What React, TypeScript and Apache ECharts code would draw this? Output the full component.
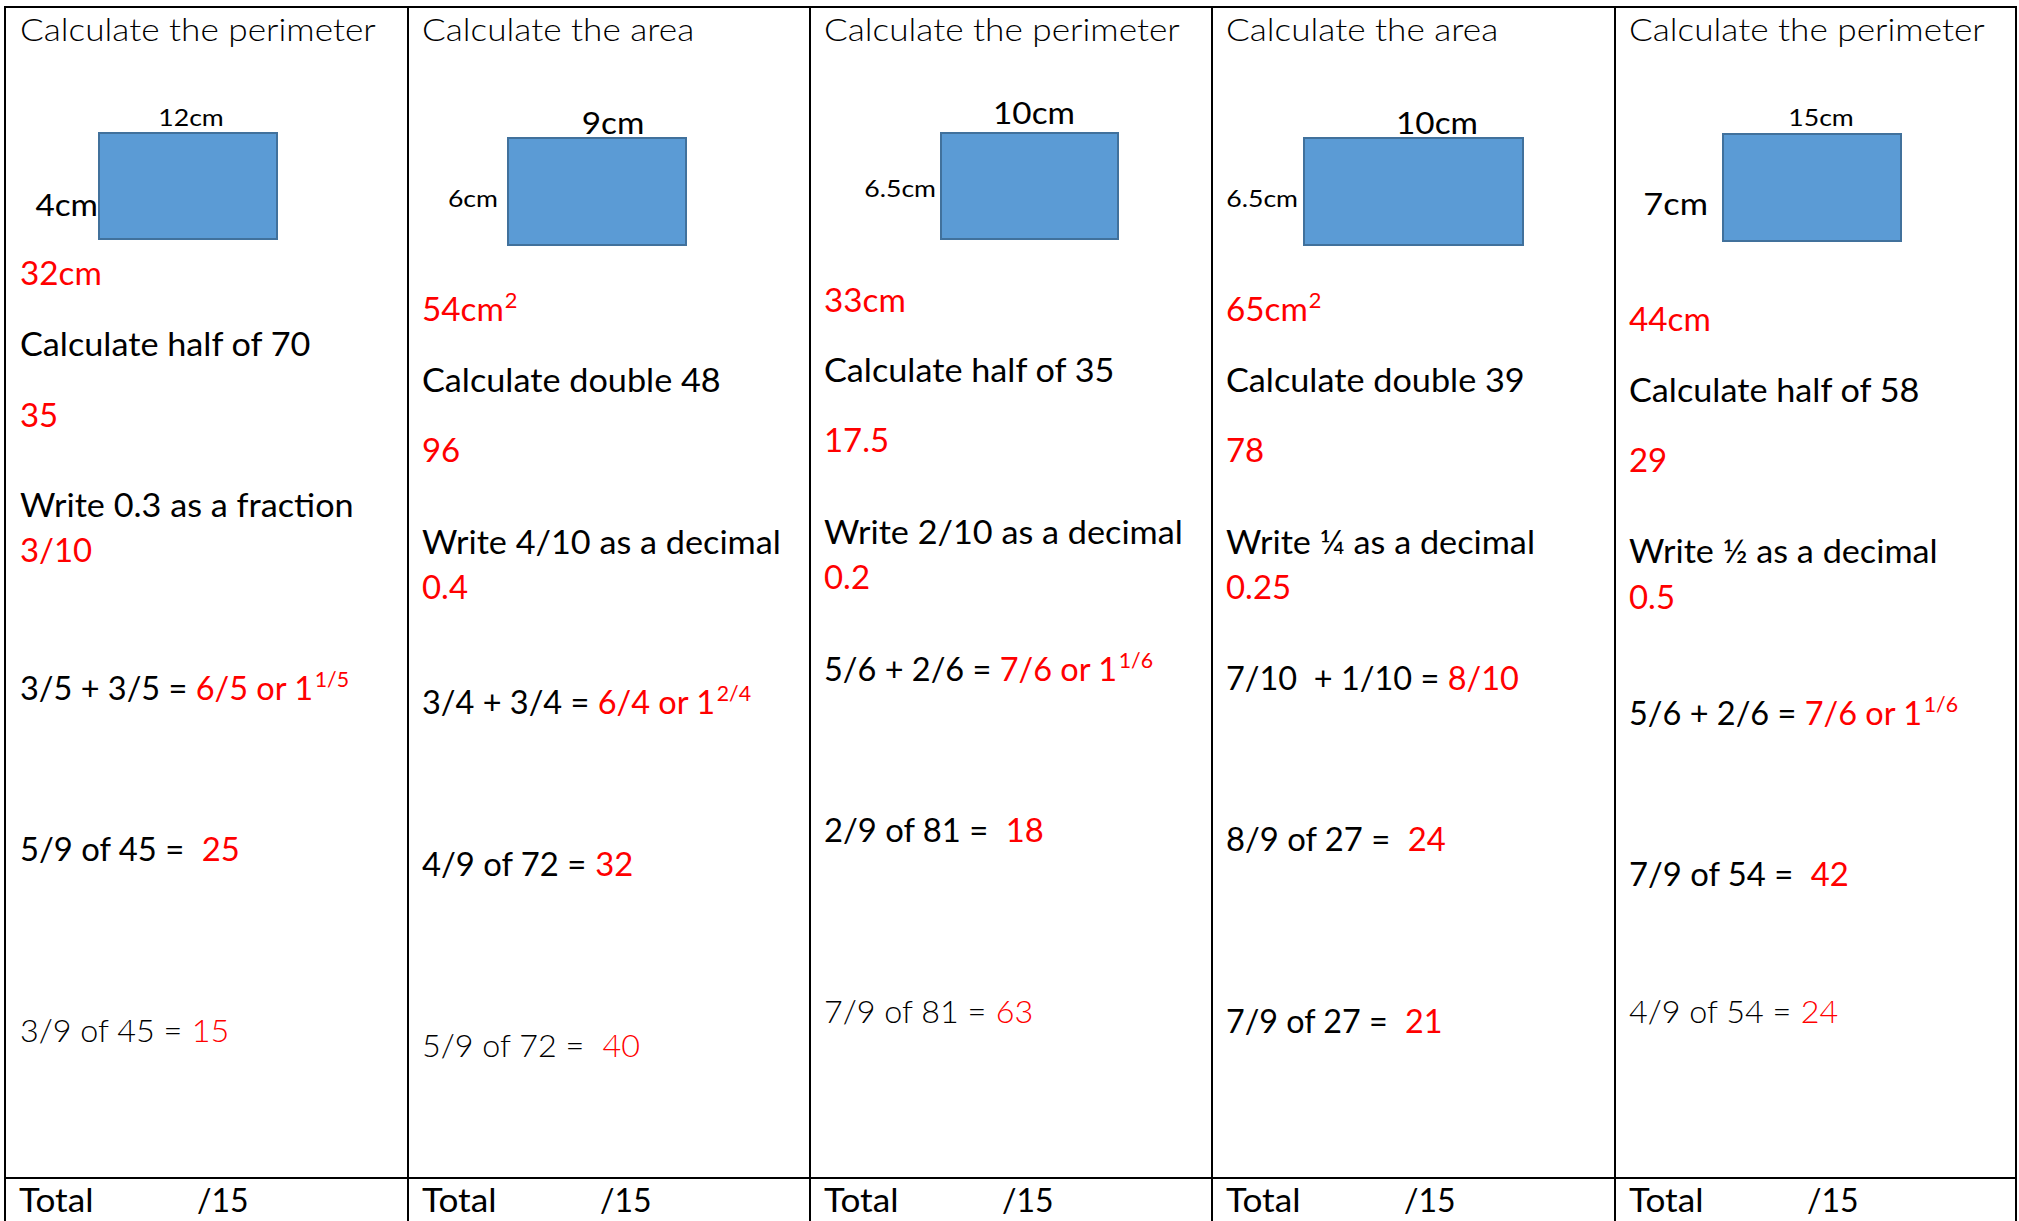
import React, { useEffect, useRef } from "react";
import * as echarts from "echarts";

// ---------- content ----------
const TITLES = ["Calculate the perimeter", "Calculate the area", "Calculate the perimeter", "Calculate the area", "Calculate the perimeter"];
const WIDTH_LABELS = ["12cm", "9cm", "10cm", "10cm", "15cm"];
const HEIGHT_LABELS = ["4cm", "6cm", "6.5cm", "6.5cm", "7cm"];
const SHAPE_ANSWERS = ["32cm", "54cm", "33cm", "65cm", "44cm"];
const SHAPE_ANSWER_SUP = ["", "2", "", "2", ""];
const HALF_DOUBLE_Q = ["Calculate half of 70", "Calculate double 48", "Calculate half of 35", "Calculate double 39", "Calculate half of 58"];
const HALF_DOUBLE_A = ["35", "96", "17.5", "78", "29"];
const CONVERT_Q = ["Write 0.3 as a fraction", "Write 4/10 as a decimal", "Write 2/10 as a decimal", "Write \u00BC as a decimal", "Write \u00BD as a decimal"];
const CONVERT_A = ["3/10", "0.4", "0.2", "0.25", "0.5"];
const ADD_Q = ["3/5 + 3/5 = ", "3/4 + 3/4 = ", "5/6 + 2/6 = ", "7/10  + 1/10 = ", "5/6 + 2/6 = "];
const ADD_A = ["6/5 or 1", "6/4 or 1", "7/6 or 1", "8/10", "7/6 or 1"];
const ADD_A_SUP = ["1/5", "2/4", "1/6", "", "1/6"];
const FRAC1_Q = ["5/9 of 45 =  ", "4/9 of 72 = ", "2/9 of 81 =  ", "8/9 of 27 =  ", "7/9 of 54 =  "];
const FRAC1_A = ["25", "32", "18", "24", "42"];
const FRAC2_Q = ["3/9 of 45 = ", "5/9 of 72 =  ", "7/9 of 81 = ", "7/9 of 27 =  ", "4/9 of 54 = "];
const FRAC2_A = ["15", "40", "63", "21", "24"];
const FRAC2_LIGHT = [true, true, true, false, true];
const TOTAL_LABEL = "Total";
const TOTAL_MAX = "/15";

// ---------- layout ----------
const W = 2019;
const H = 1221;
const COL_X = [5, 408, 810, 1212, 1615, 2016];
const TOP_Y = 7;
const TOTAL_LINE_Y = 1178;
const TEXT_X = [20, 422, 824, 1226, 1629];
const RECTS = [
  [99, 133, 178, 106],
  [508, 138, 178, 107],
  [941, 133, 177, 106],
  [1304, 138, 219, 107],
  [1723, 134, 178, 107],
];
const WL_X = [191, 613, 1034, 1437, 1821];
const WL_BASE = [127, 135, 125, 135, 127];
const WL_SIZE = [24, 30, 30, 30, 24];
const HL_RIGHT = [98, 498, 936, 1298, 1708];
const HL_BASE = [217, 208, 198, 208, 216];
const HL_SIZE = [30, 24, 24, 24, 31];
const B_SHAPE = [286, 322, 313, 322, 332];
const B_HALF_Q = [357, 393, 383, 393, 403];
const B_HALF_A = [428, 463, 453, 463, 473];
const B_CONV_Q = [518, 555, 545, 555, 564];
const B_CONV_A = [563, 600, 590, 600, 610];
const B_ADD = [701, 715, 682, 691, 726];
const B_FRAC1 = [862, 877, 843, 852, 887];
const B_FRAC2 = [1043, 1058, 1024, 1034, 1024];
const TITLE_BASE = 42;
const TOTAL_BASE = 1213;
const TOTAL_MAX_DX = 192;

// horizontal stretch factors (Calibri-like proportions)
const SX_TITLE = 1.1;
const SX_WORDS = 1.07;
const SX_SHAPE_ANS = 1.04;
const SX_ANS = 1.03;
const SX_ADD = 1.015;
const SX_FRAC1 = 1.025;
const SX_FRAC2 = 1.01;
const SX_LABEL = 1.11;
const SX_TOTAL = 1.1;

const FONT = "Lato";
const BODY = 32;
const SUP = 21;
const RED = "#FF0000";
const BLACK = "#000000";

let measureCtx: CanvasRenderingContext2D | null = null;
function tw(text: string, size: number, weight: number | string): number {
  if (!measureCtx) measureCtx = document.createElement("canvas").getContext("2d");
  measureCtx!.font = `${weight} ${size}px ${FONT}`;
  return measureCtx!.measureText(text).width;
}

function textEl(
  text: string,
  x: number,
  baseline: number,
  size: number,
  color: string,
  weight: number | string = 400,
  align = "left",
  sx = 1
) {
  return {
    type: "text",
    x,
    y: baseline - 0.32 * size - 3,
    scaleX: sx,
    silent: true,
    style: {
      text,
      fontSize: size,
      fontFamily: FONT,
      fontWeight: weight,
      fill: color,
      align,
      verticalAlign: "middle",
    },
  };
}

type Seg = { t: string; c: string; sup?: boolean; w?: number | string };
function lineEls(segs: Seg[], x: number, baseline: number, size: number, sx: number) {
  const out: any[] = [];
  let cx = x;
  for (const s of segs) {
    if (!s.t) continue;
    const weight = s.w ?? 400;
    if (s.sup) {
      out.push(textEl(s.t, cx + 1, baseline - 12, SUP, s.c, weight, "left", sx));
      cx += (tw(s.t, SUP, weight) + 1) * sx;
    } else {
      out.push(textEl(s.t, cx, baseline, size, s.c, weight, "left", sx));
      cx += tw(s.t, size, weight) * sx;
    }
  }
  return out;
}

function buildElements() {
  const els: any[] = [];
  const line = (x1: number, y1: number, x2: number, y2: number) => ({
    type: "line",
    silent: true,
    shape: { x1, y1, x2, y2 },
    style: { stroke: "#000", lineWidth: 2 },
  });
  els.push(line(COL_X[0], TOP_Y, COL_X[5], TOP_Y));
  els.push(line(COL_X[0], TOTAL_LINE_Y, COL_X[5], TOTAL_LINE_Y));
  for (const x of COL_X) els.push(line(x, TOP_Y - 1, x, H));

  for (let i = 0; i < 5; i++) {
    const x = TEXT_X[i];
    els.push(textEl(TITLES[i], x, TITLE_BASE, BODY, BLACK, 300, "left", SX_TITLE));
    const r = RECTS[i];
    els.push({
      type: "rect",
      silent: true,
      shape: { x: r[0], y: r[1], width: r[2], height: r[3] },
      style: { fill: "#5B9BD5", stroke: "#41719C", lineWidth: 2 },
    });
    els.push(textEl(WIDTH_LABELS[i], WL_X[i], WL_BASE[i], WL_SIZE[i], BLACK, 400, "center", SX_LABEL));
    els.push(textEl(HEIGHT_LABELS[i], HL_RIGHT[i], HL_BASE[i], HL_SIZE[i], BLACK, 400, "right", SX_LABEL));
    els.push(...lineEls([{ t: SHAPE_ANSWERS[i], c: RED }, { t: SHAPE_ANSWER_SUP[i], c: RED, sup: true }], x, B_SHAPE[i], BODY, SX_SHAPE_ANS));
    els.push(...lineEls([{ t: HALF_DOUBLE_Q[i], c: BLACK }], x, B_HALF_Q[i], BODY, SX_WORDS));
    els.push(...lineEls([{ t: HALF_DOUBLE_A[i], c: RED }], x, B_HALF_A[i], BODY, SX_ANS));
    els.push(...lineEls([{ t: CONVERT_Q[i], c: BLACK }], x, B_CONV_Q[i], BODY, SX_WORDS));
    els.push(...lineEls([{ t: CONVERT_A[i], c: RED }], x, B_CONV_A[i], BODY, SX_ANS));
    els.push(...lineEls([{ t: ADD_Q[i], c: BLACK }, { t: ADD_A[i], c: RED }, { t: ADD_A_SUP[i], c: RED, sup: true }], x, B_ADD[i], BODY, SX_ADD));
    els.push(...lineEls([{ t: FRAC1_Q[i], c: BLACK }, { t: FRAC1_A[i], c: RED }], x, B_FRAC1[i], BODY, SX_FRAC1));
    const lw = FRAC2_LIGHT[i] ? 300 : 400;
    els.push(...lineEls([{ t: FRAC2_Q[i], c: BLACK, w: lw }, { t: FRAC2_A[i], c: RED, w: lw }], x, B_FRAC2[i], BODY, SX_FRAC2));
    els.push(textEl(TOTAL_LABEL, COL_X[i] + 14, TOTAL_BASE, BODY, BLACK, 400, "left", SX_TOTAL));
    els.push(textEl(TOTAL_MAX, COL_X[i] + TOTAL_MAX_DX, TOTAL_BASE, BODY, BLACK, 400, "left", 1));
  }
  return els;
}

export default function App() {
  const ref = useRef<HTMLDivElement>(null);
  useEffect(() => {
    if (!ref.current) return;
    const chart = echarts.init(ref.current, undefined, { renderer: "svg" });
    chart.setOption({
      animation: false,
      backgroundColor: "#ffffff",
      graphic: { elements: buildElements() },
    });
    return () => chart.dispose();
  }, []);
  return (
    <div
      ref={ref}
      style={{ position: "fixed", left: 0, top: 0, width: W, height: H, background: "#fff" }}
    />
  );
}
